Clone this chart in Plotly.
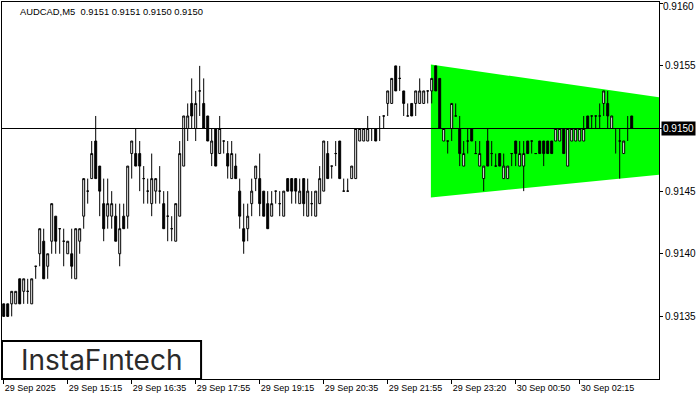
import plotly.graph_objects as go

# ---------------- data ----------------
symbol_title = "AUDCAD,M5  0.9151 0.9151 0.9150 0.9150"

opens = [
    0.9136, 0.9136, 0.9136, 0.9136, 0.9138, 0.9137, 0.9137, 0.9136, 0.9139, 0.9140,
    0.9141, 0.9139, 0.9141, 0.9143, 0.9142, 0.9141, 0.9140, 0.9140, 0.9138, 0.9141,
    0.9143, 0.9145, 0.9146, 0.9149, 0.9147, 0.9144, 0.9143, 0.9143, 0.9143, 0.9140,
    0.9143, 0.9143, 0.9148, 0.9148, 0.9148, 0.9146, 0.9145, 0.9144, 0.9145, 0.9145,
    0.9144, 0.9143, 0.9142, 0.9141, 0.9143, 0.9147, 0.9150, 0.9152, 0.9150, 0.9153,
    0.9152, 0.9151, 0.9148, 0.9150, 0.9148, 0.9149, 0.9148, 0.9146, 0.9147, 0.9145,
    0.9142, 0.9142, 0.9144, 0.9146, 0.9146, 0.9145, 0.9144, 0.9143, 0.9145, 0.9144,
    0.9143, 0.9146, 0.9146, 0.9146, 0.9144, 0.9146, 0.9143, 0.9144, 0.9143, 0.9144,
    0.9145, 0.9148, 0.9147, 0.9148, 0.9149, 0.9145, 0.9145, 0.9146, 0.9146, 0.9149,
    0.9149, 0.9149, 0.9150, 0.9150, 0.9150, 0.9151, 0.9152, 0.9152, 0.9155, 0.9154,
    0.9153, 0.9151, 0.9152, 0.9152, 0.9152, 0.9152, 0.9153, 0.9153, 0.9155, 0.9154,
    0.9149, 0.9149, 0.9150, 0.9151, 0.9150, 0.9147, 0.9149, 0.9150, 0.9148, 0.9147,
    0.9146, 0.9149, 0.9148, 0.9147, 0.9148, 0.9146, 0.9146, 0.9148, 0.9149, 0.9147,
    0.9147, 0.9149, 0.9149, 0.9148, 0.9149, 0.9149, 0.9149, 0.9149, 0.9149, 0.9149,
    0.9150, 0.9147, 0.9149, 0.9149, 0.9149, 0.9149, 0.9151, 0.9151, 0.9151, 0.9151,
    0.9152, 0.9152, 0.9150, 0.9150, 0.9149, 0.9148, 0.9150, 0.9151,
]
highs = [
    0.9136, 0.9136, 0.9137, 0.9137, 0.9138, 0.9138, 0.9138, 0.9138, 0.9139, 0.9142,
    0.9142, 0.9140, 0.9144, 0.9143, 0.9142, 0.9142, 0.9141, 0.9142, 0.9142, 0.9142,
    0.9146, 0.9146, 0.9149, 0.9151, 0.9147, 0.9146, 0.9146, 0.9145, 0.9144, 0.9144,
    0.9144, 0.9147, 0.9149, 0.9150, 0.9149, 0.9147, 0.9146, 0.9148, 0.9146, 0.9147,
    0.9145, 0.9145, 0.9143, 0.9144, 0.9149, 0.9151, 0.9152, 0.9154, 0.9153, 0.9155,
    0.9154, 0.9151, 0.9150, 0.9150, 0.9151, 0.9149, 0.9149, 0.9149, 0.9148, 0.9146,
    0.9144, 0.9144, 0.9146, 0.9147, 0.9148, 0.9145, 0.9145, 0.9145, 0.9145, 0.9145,
    0.9145, 0.9146, 0.9146, 0.9146, 0.9146, 0.9146, 0.9146, 0.9145, 0.9145, 0.9147,
    0.9149, 0.9149, 0.9147, 0.9149, 0.9149, 0.9146, 0.9146, 0.9147, 0.9150, 0.9150,
    0.9150, 0.9151, 0.9150, 0.9150, 0.9151, 0.9151, 0.9153, 0.9154, 0.9155, 0.9155,
    0.9153, 0.9152, 0.9152, 0.9153, 0.9154, 0.9153, 0.9153, 0.9154, 0.9155, 0.9154,
    0.9150, 0.9149, 0.9152, 0.9152, 0.9151, 0.9149, 0.9150, 0.9150, 0.9149, 0.9149,
    0.9147, 0.9150, 0.9149, 0.9148, 0.9148, 0.9148, 0.9147, 0.9148, 0.9149, 0.9149,
    0.9149, 0.9149, 0.9149, 0.9148, 0.9149, 0.9149, 0.9149, 0.9149, 0.9150, 0.9150,
    0.9150, 0.9150, 0.9150, 0.9150, 0.9150, 0.9151, 0.9151, 0.9151, 0.9151, 0.9152,
    0.9153, 0.9153, 0.9151, 0.9150, 0.9150, 0.9149, 0.9151, 0.9151,
]
lows = [
    0.9135, 0.9135, 0.9135, 0.9136, 0.9136, 0.9136, 0.9136, 0.9136, 0.9138, 0.9139,
    0.9138, 0.9138, 0.9140, 0.9140, 0.9140, 0.9139, 0.9140, 0.9138, 0.9138, 0.9140,
    0.9142, 0.9144, 0.9146, 0.9146, 0.9143, 0.9141, 0.9142, 0.9142, 0.9141, 0.9139,
    0.9142, 0.9142, 0.9146, 0.9147, 0.9145, 0.9144, 0.9144, 0.9143, 0.9144, 0.9144,
    0.9142, 0.9141, 0.9141, 0.9141, 0.9143, 0.9147, 0.9149, 0.9150, 0.9149, 0.9151,
    0.9150, 0.9149, 0.9147, 0.9147, 0.9148, 0.9148, 0.9146, 0.9146, 0.9146, 0.9142,
    0.9140, 0.9141, 0.9143, 0.9145, 0.9143, 0.9143, 0.9142, 0.9143, 0.9144, 0.9143,
    0.9143, 0.9145, 0.9144, 0.9144, 0.9144, 0.9143, 0.9143, 0.9143, 0.9143, 0.9144,
    0.9145, 0.9146, 0.9146, 0.9147, 0.9146, 0.9145, 0.9145, 0.9146, 0.9146, 0.9149,
    0.9149, 0.9149, 0.9149, 0.9149, 0.9149, 0.9150, 0.9151, 0.9152, 0.9153, 0.9153,
    0.9151, 0.9151, 0.9151, 0.9151, 0.9152, 0.9152, 0.9152, 0.9152, 0.9153, 0.9150,
    0.9149, 0.9148, 0.9149, 0.9151, 0.9147, 0.9147, 0.9148, 0.9149, 0.9148, 0.9147,
    0.9145, 0.9147, 0.9147, 0.9147, 0.9147, 0.9146, 0.9146, 0.9147, 0.9147, 0.9147,
    0.9145, 0.9148, 0.9148, 0.9148, 0.9148, 0.9147, 0.9148, 0.9148, 0.9149, 0.9149,
    0.9148, 0.9147, 0.9149, 0.9149, 0.9149, 0.9149, 0.9150, 0.9150, 0.9150, 0.9150,
    0.9151, 0.9150, 0.9150, 0.9148, 0.9146, 0.9148, 0.9149, 0.9150,
]
closes = [
    0.9135, 0.9135, 0.9137, 0.9137, 0.9136, 0.9138, 0.9137, 0.9138, 0.9139, 0.9142,
    0.9138, 0.9140, 0.9144, 0.9141, 0.9142, 0.9141, 0.9141, 0.9139, 0.9142, 0.9142,
    0.9146, 0.9145, 0.9148, 0.9146, 0.9145, 0.9142, 0.9144, 0.9144, 0.9141, 0.9142,
    0.9142, 0.9147, 0.9149, 0.9147, 0.9147, 0.9146, 0.9145, 0.9146, 0.9146, 0.9145,
    0.9142, 0.9143, 0.9142, 0.9144, 0.9148, 0.9151, 0.9151, 0.9151, 0.9152, 0.9153,
    0.9150, 0.9149, 0.9149, 0.9147, 0.9150, 0.9149, 0.9147, 0.9148, 0.9146, 0.9143,
    0.9141, 0.9143, 0.9145, 0.9147, 0.9144, 0.9143, 0.9142, 0.9144, 0.9145, 0.9144,
    0.9145, 0.9145, 0.9145, 0.9145, 0.9145, 0.9144, 0.9145, 0.9144, 0.9145, 0.9146,
    0.9149, 0.9146, 0.9147, 0.9148, 0.9146, 0.9145, 0.9145, 0.9147, 0.9150, 0.9150,
    0.9150, 0.9150, 0.9150, 0.9149, 0.9150, 0.9151, 0.9153, 0.9154, 0.9153, 0.9154,
    0.9152, 0.9151, 0.9151, 0.9153, 0.9153, 0.9153, 0.9153, 0.9154, 0.9153, 0.9150,
    0.9150, 0.9149, 0.9152, 0.9151, 0.9148, 0.9148, 0.9149, 0.9149, 0.9148, 0.9148,
    0.9147, 0.9147, 0.9148, 0.9147, 0.9147, 0.9147, 0.9147, 0.9148, 0.9148, 0.9148,
    0.9148, 0.9148, 0.9149, 0.9148, 0.9148, 0.9148, 0.9148, 0.9148, 0.9150, 0.9150,
    0.9148, 0.9150, 0.9150, 0.9150, 0.9150, 0.9150, 0.9150, 0.9151, 0.9151, 0.9151,
    0.9153, 0.9151, 0.9151, 0.9150, 0.9149, 0.9149, 0.9150, 0.9150,
]
bar_index = list(range(len(opens)))

time_tick_index = [0, 16, 32, 48, 64, 80, 96, 112, 128, 144]
time_tick_labels = ["29 Sep 2025", "29 Sep 15:15", "29 Sep 16:35", "29 Sep 17:55",
                    "29 Sep 19:15", "29 Sep 20:35", "29 Sep 21:55", "29 Sep 23:20",
                    "30 Sep 00:50", "30 Sep 02:15"]
price_ticks = [0.9135, 0.9140, 0.9145, 0.9150, 0.9155, 0.9160]
current_price = 0.9150

# symmetrical triangle pattern (bar index, price) corners
pattern_x = [106.8, 163.9, 163.9, 106.8]
pattern_y = [0.91551, 0.91525, 0.91463, 0.91445]

# ---------------- figure ----------------
FONT = "Liberation Sans, Arial, sans-serif"

fig = go.Figure()

fig.add_trace(go.Candlestick(
    x=bar_index, open=opens, high=highs, low=lows, close=closes,
    increasing=dict(line=dict(color="black", width=1), fillcolor="white"),
    decreasing=dict(line=dict(color="black", width=1), fillcolor="black"),
    whiskerwidth=0, showlegend=False, hoverinfo="skip"))

# pattern polygon drawn beneath the candles
path = "M " + " L ".join(f"{x},{y}" for x, y in zip(pattern_x, pattern_y)) + " Z"
fig.add_shape(type="path", path=path, xref="x", yref="y",
              fillcolor="#00FF00", line=dict(width=0), layer="below")

top_tick = max(price_ticks)
# the current price and the top price get their own labels (see annotations below)
tick_text = ["" if (abs(v - current_price) < 1e-9 or abs(v - top_tick) < 1e-9)
             else f"{v:.4f}" for v in price_ticks]

fig.update_layout(
    width=700, height=400,
    margin=dict(l=2, r=41, t=2, b=21, autoexpand=False),
    paper_bgcolor="white", plot_bgcolor="white",
    showlegend=False,
    font=dict(family=FONT, size=10, color="black"),
    xaxis=dict(
        range=[-0.425, 163.825], rangeslider=dict(visible=False),
        tickmode="array", tickvals=time_tick_index, ticktext=time_tick_labels,
        ticks="outside", ticklen=4, tickcolor="black", tickangle=0,
        ticklabelposition="outside right", ticklabeloverflow="allow",
        showgrid=False, zeroline=False, automargin=False,
        showline=True, mirror=True, linecolor="black", linewidth=1,
        tickfont=dict(family=FONT, size=9, color="black"),
    ),
    yaxis=dict(
        range=[0.9130, 0.91601], side="right",
        tickmode="array", tickvals=price_ticks, ticktext=tick_text,
        ticks="outside", ticklen=3, tickcolor="black", ticklabeloverflow="allow",
        showgrid=False, zeroline=False, automargin=False,
        showline=True, mirror=True, linecolor="black", linewidth=1,
        tickfont=dict(family=FONT, size=10, color="black"),
    ),
)

fig.add_shape(type="line", xref="paper", x0=0, x1=1, y0=current_price, y1=current_price,
              line=dict(color="black", width=1), layer="above")

fig.add_annotation(xref="paper", yref="y", x=1, y=current_price, xanchor="left",
                   xshift=2, text=f"{current_price:.4f}", showarrow=False,
                   bgcolor="black", borderpad=1,
                   font=dict(family=FONT, size=10, color="white"))

fig.add_annotation(xref="paper", yref="paper", x=1, y=1, xanchor="left", yanchor="top",
                   xshift=3, yshift=2, text=f"{top_tick:.4f}", showarrow=False,
                   borderpad=0, font=dict(family=FONT, size=10, color="black"))

fig.add_annotation(xref="paper", yref="paper", x=0.0244, y=0.976, xanchor="left",
                   yanchor="middle", text=symbol_title, showarrow=False,
                   font=dict(family=FONT, size=9.4, color="black"))

# logo box
fig.add_shape(type="rect", xref="paper", yref="paper", x0=0, x1=0.303, y0=0, y1=0.101,
              line=dict(color="black", width=2), fillcolor="white", layer="above")
fig.add_annotation(xref="paper", yref="paper", x=0.1515, y=0.05, xanchor="center",
                   yanchor="middle", text="InstaFıntech", showarrow=False,
                   font=dict(family="Inter, Lato, sans-serif", size=28, color="#2b2b2b"))

fig.write_html("out.html", config={"displayModeBar": False},
               post_script="document.body.style.margin='0';")
